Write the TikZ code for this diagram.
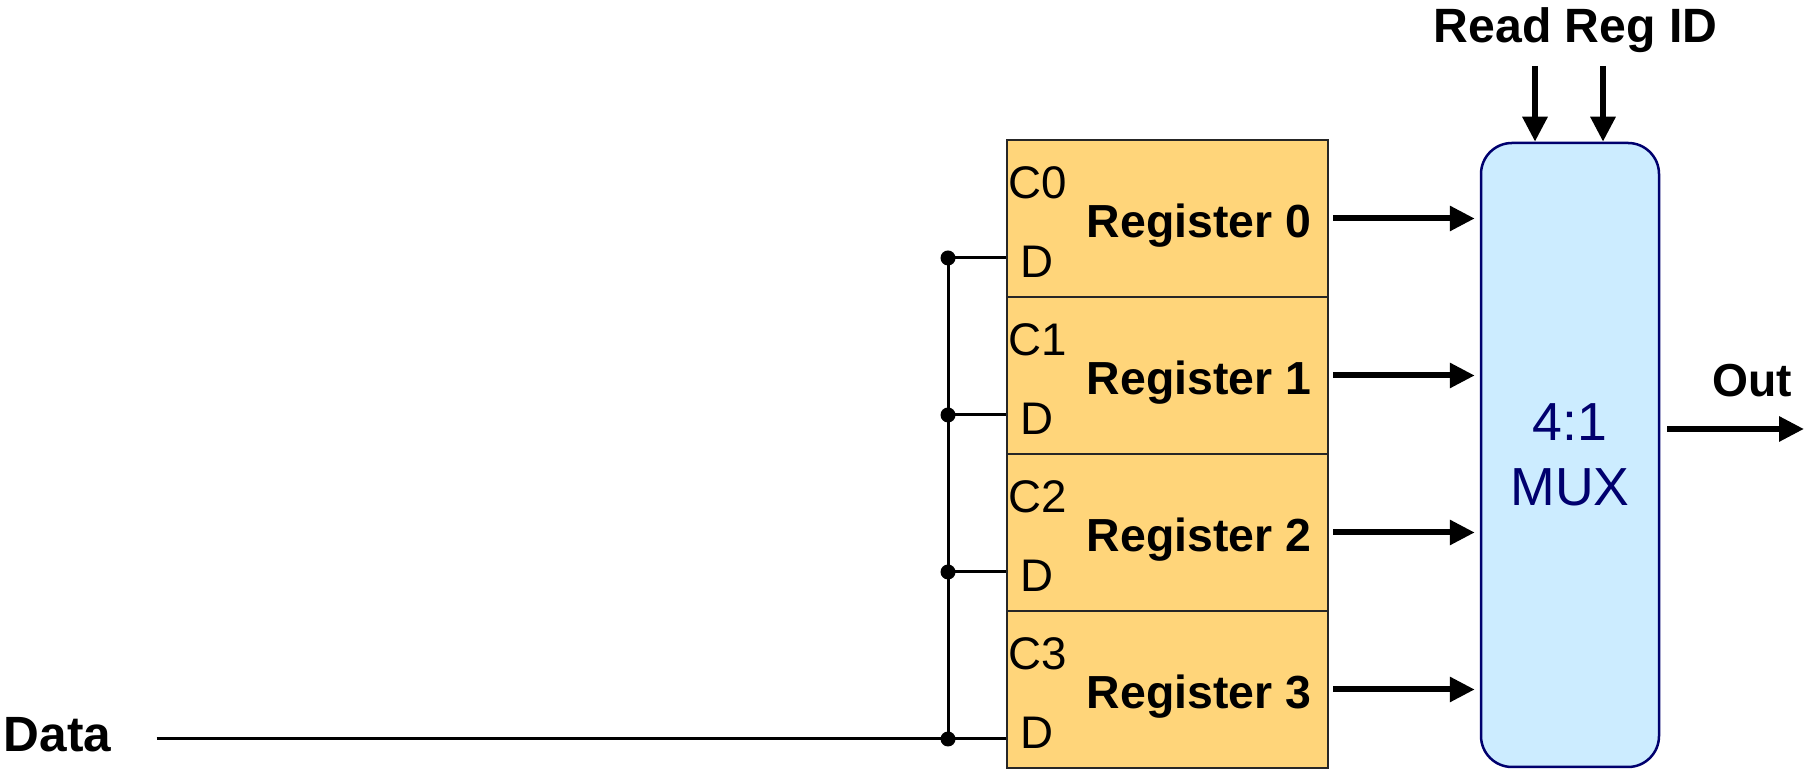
\documentclass[tikz,border=0pt]{standalone}
\usepackage{fontspec}
\setmainfont{Liberation Sans}
\usepackage{tikz}
\usetikzlibrary{calc,arrows.meta}
\definecolor{regfill}{RGB}{255,213,122}
\definecolor{muxfill}{RGB}{204,236,255}
\definecolor{muxline}{RGB}{0,0,110}
\def\pinfont{\fontsize{26}{30}\selectfont}
\def\namefont{\fontsize{26.4}{30}\selectfont\bfseries}

\begin{document}
\begin{tikzpicture}[
		reg/.style={draw=black!85, line width=0.04cm, fill=regfill, minimum width=6.42cm, minimum height=3.14cm, inner sep=0},
		regname/.style={inner sep=0, font=\namefont},
		pinlbl/.style={inner sep=0, font=\pinfont},
		bus/.style={line width=0.06cm},
		sig/.style={line width=0.12cm, -{Triangle[length=0.5cm,width=0.48cm]}},
	]
		%%%%% START %%%%%
		
		\useasboundingbox (0, 0) rectangle (36.08, 15.42);
		
		% registers
		\foreach \i in {0,...,3} {
			\node[reg] (reg\i) at (23.35, {11.05-3.14*\i}) {};
			\node[regname, anchor=base] (rname\i) at (23.98, {10.66-3.14*\i}) {Register \i};
			\node[pinlbl, anchor=base west] (c\i) at (20.16, {11.44-3.14*\i}) {C\i};
			\node[pinlbl, anchor=base west] (d\i) at (20.41, {9.86-3.14*\i}) {D};
		}
		
		% mux
		\node[draw=muxline, fill=muxfill, line width=0.05cm, rounded corners=0.62cm, minimum width=3.56cm, minimum height=12.48cm, text=muxline, align=center, font=\fontsize{30.5}{37}\selectfont] (mux) at (31.40, 6.32) {4:1\\MUX};
		
		% labels
		\node[inner sep=0, font=\fontsize{28.2}{32}\selectfont\bfseries, anchor=base] (data) at (1.15, 0.38) {Data};
		\node[inner sep=0, font=\fontsize{27.4}{30}\selectfont\bfseries, anchor=base] (readid) at (31.51, 14.56) {Read Reg ID};
		\node[inner sep=0, font=\fontsize{26.3}{30}\selectfont\bfseries, anchor=base] (out) at (35.04, 7.48) {Out};
		
		% data bus
		\foreach \i/\y in {0/10.26, 1/7.12, 2/3.98, 3/0.64}
			\coordinate (j\i) at (18.96, \y);
		\draw[bus, shorten <=0.9cm] (data.east |- j3) -- (j3);
		\draw[bus] (j0) -- (j3);
		\foreach \i in {0,...,3} {
			\draw[bus] (j\i) -- (j\i -| reg\i.west);
			\fill (j\i) circle (0.15);
		}
		
		% register outputs
		\foreach \i in {0,...,3}
			\draw[sig, shorten <=0.08cm, shorten >=0.1cm] (reg\i.east) -- (reg\i.east -| mux.west);
		
		% select lines
		\coordinate (rd0) at (30.70, 14.10);
		\coordinate (rd1) at (32.06, 14.10);
		\draw[sig] (rd0) -- (rd0 |- mux.north);
		\draw[sig] (rd1) -- (rd1 |- mux.north);
		
		% output
		\coordinate (outend) at (36.08, 6.84);
		\draw[sig, shorten <=0.14cm] (mux.east |- outend) -- (outend);
		
		%%%%% END %%%%%
	\end{tikzpicture}
\end{document}
